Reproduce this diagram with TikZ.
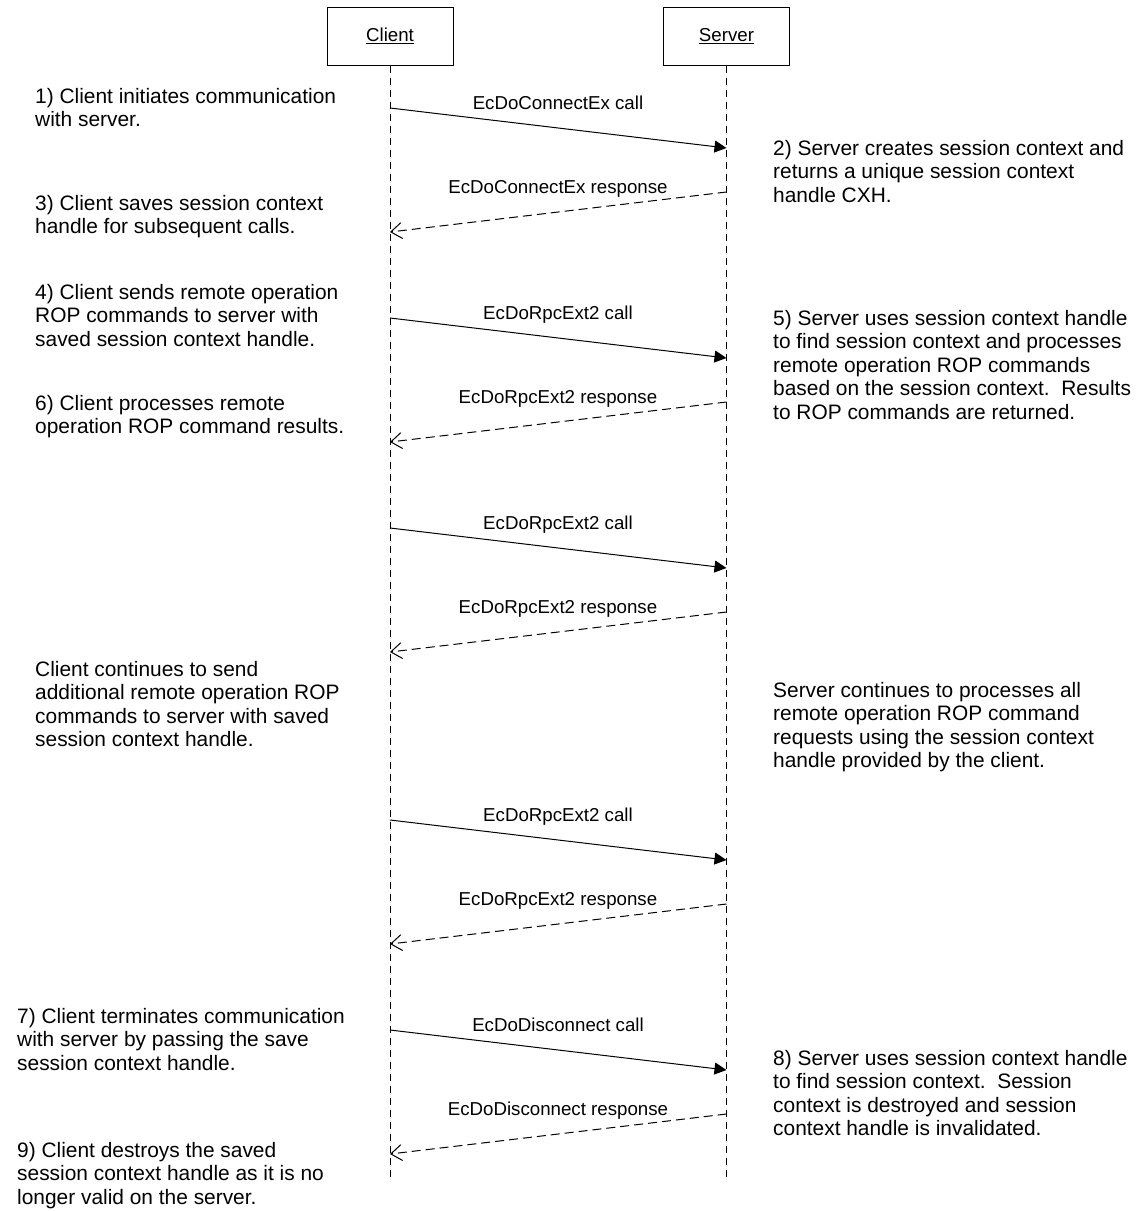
\documentclass[tikz,border=0pt]{standalone}
\usepackage{fontspec}
\setmainfont{Liberation Sans}
\usetikzlibrary{arrows.meta}

\tikzset{
  lifebox/.style={draw, line width=1pt, minimum width=126pt, minimum height=58pt, inner sep=0pt, font=\fontsize{18.7}{22}\selectfont},
  lifeline/.style={line width=1pt, dash pattern=on 7pt off 5pt},
  callarrow/.style={line width=1pt, -{Triangle[length=12pt,width=12pt]}},
  retarrow/.style={line width=1pt, dash pattern=on 9pt off 5pt, -{Straight Barb[length=11pt,width=16pt]}},
  msg/.style={anchor=base, inner sep=0pt, font=\fontsize{18.7}{22}\selectfont},
  note/.style={anchor=base west, align=left, inner sep=0pt, font=\fontsize{20.9}{23.5}\selectfont}
}

\begin{document}
\begin{tikzpicture}[x=1pt, y=-1pt]
  \useasboundingbox (0,0) rectangle (1140,1211);

  % the two parties and their lifelines
  \node[lifebox] (client) at (390,36) {\underline{Client}};
  \node[lifebox] (server) at (726.5,36) {\underline{Server}};
  \coordinate (clientend) at (390,1180);
  \coordinate (serverend) at (726.5,1180);
  \draw[lifeline] (client.south) -- (clientend);
  \draw[lifeline] (server.south) -- (serverend);

  % connect
  \coordinate (c1) at (390,108);  \coordinate (s1) at (726.5,148);
  \coordinate (s1r) at (726.5,192); \coordinate (c1r) at (390,232);
  \draw[callarrow] (c1) -- (s1);
  \node[msg] (call1) at (558,109) {EcDoConnectEx call};
  \draw[retarrow] (s1r) -- (c1r);
  \node[msg] (resp1) at (558,193) {EcDoConnectEx response};

  % first rpc
  \coordinate (c2) at (390,318);  \coordinate (s2) at (726.5,358);
  \coordinate (s2r) at (726.5,402); \coordinate (c2r) at (390,442);
  \draw[callarrow] (c2) -- (s2);
  \node[msg] (call2) at (558,319) {EcDoRpcExt2 call};
  \draw[retarrow] (s2r) -- (c2r);
  \node[msg] (resp2) at (558,403) {EcDoRpcExt2 response};

  % second rpc
  \coordinate (c3) at (390,528);  \coordinate (s3) at (726.5,568);
  \coordinate (s3r) at (726.5,612); \coordinate (c3r) at (390,652);
  \draw[callarrow] (c3) -- (s3);
  \node[msg] (call3) at (558,529) {EcDoRpcExt2 call};
  \draw[retarrow] (s3r) -- (c3r);
  \node[msg] (resp3) at (558,613) {EcDoRpcExt2 response};

  % last rpc
  \coordinate (c4) at (390,820);  \coordinate (s4) at (726.5,860);
  \coordinate (s4r) at (726.5,904); \coordinate (c4r) at (390,944);
  \draw[callarrow] (c4) -- (s4);
  \node[msg] (call4) at (558,821) {EcDoRpcExt2 call};
  \draw[retarrow] (s4r) -- (c4r);
  \node[msg] (resp4) at (558,905) {EcDoRpcExt2 response};

  % disconnect
  \coordinate (c5) at (390,1030);  \coordinate (s5) at (726.5,1070);
  \coordinate (s5r) at (726.5,1114); \coordinate (c5r) at (390,1154);
  \draw[callarrow] (c5) -- (s5);
  \node[msg] (call5) at (558,1031) {EcDoDisconnect call};
  \draw[retarrow] (s5r) -- (c5r);
  \node[msg] (resp5) at (558,1115) {EcDoDisconnect response};

  % client side notes (placed at the baseline of their last line)
  \node[note] (step1) at (35,126.5) {1) Client initiates communication\\with server.};
  \node[note] (step3) at (35,233.5) {3) Client saves session context\\handle for subsequent calls.};
  \node[note] (step4) at (35,346) {4) Client sends remote operation\\ROP commands to server with\\saved session context handle.};
  \node[note] (step6) at (35,433.5) {6) Client processes remote\\operation ROP command results.};
  \node[note] (clientmore) at (35,746.5) {Client continues to send\\additional remote operation ROP\\commands to server with saved\\session context handle.};
  \node[note] (step7) at (17,1070) {7) Client terminates communication\\with server by passing the save\\session context handle.};
  \node[note] (step9) at (17,1204) {9) Client destroys the saved\\session context handle as it is no\\longer valid on the server.};

  % server side notes
  \node[note] (step2) at (773,202) {2) Server creates session context and\\returns a unique session context\\handle CXH.};
  \node[note] (step5) at (773,419) {5) Server uses session context handle\\to find session context and processes\\remote operation ROP commands\\based on the session context.\ \ Results\\to ROP commands are returned.};
  \node[note] (servermore) at (773,767.5) {Server continues to processes all\\remote operation ROP command\\requests using the session context\\handle provided by the client.};
  \node[note] (step8) at (773,1135.5) {8) Server uses session context handle\\to find session context.\ \ Session\\context is destroyed and session\\context handle is invalidated.};
\end{tikzpicture}
\end{document}
